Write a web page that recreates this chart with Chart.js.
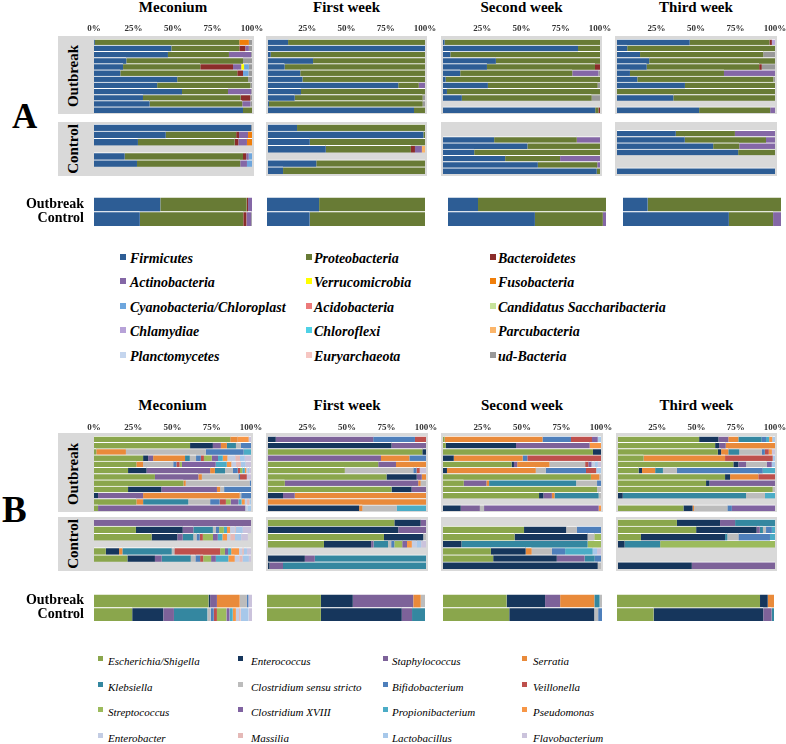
<!DOCTYPE html>
<html>
<head>
<meta charset="utf-8">
<script src="https://cdn.jsdelivr.net/npm/chart.js@4.4.0/dist/chart.umd.min.js"></script>
<style>
  body { margin: 0; background: #fff; }
  #page { position: relative; width: 786px; height: 744px; overflow: hidden; font-family: "Liberation Serif", "Times New Roman", serif; color: #000; }
  .abs { position: absolute; }
  .box { position: absolute; background: #d9d9d9; }
  .title { position: absolute; font-weight: bold; font-size: 15px; line-height: 15px; transform: translate(-50%, -50%); white-space: nowrap; }
  .side { position: absolute; font-weight: bold; font-size: 15px; line-height: 15px; transform: translate(-50%, -50%) rotate(-90deg); white-space: nowrap; }
  .big { position: absolute; font-weight: bold; line-height: 1; }
  .leg { position: absolute; white-space: nowrap; line-height: 16px; }
  .legA { font-weight: bold; font-style: italic; font-size: 14px; }
  .legB { font-style: italic; font-size: 11px; }
  .sq { position: absolute; }
</style>
</head>
<body>
<div id="page"></div>
<script>
// ---- names / colours ----
const phylaA = ['Firmicutes', 'Proteobacteria', 'Bacteroidetes', 'Actinobacteria', 'Verrucomicrobia', 'Fusobacteria',
  'Cyanobacteria/Chloroplast', 'Acidobacteria', 'Candidatus Saccharibacteria', 'Chlamydiae', 'Chloroflexi', 'Parcubacteria',
  'Planctomycetes', 'Euryarchaeota', 'ud-Bacteria'];
const colorsA = ['#2d5d95', '#687b35', '#8b2c2a', '#8467a6', '#ffff00', '#f07e0a', '#6ea6dd', '#ec7a7a', '#c6e29a',
  '#b7a2d8', '#4fd1e6', '#fbb56a', '#c4d5ee', '#f6c6c2', '#999999'];

const generaB = ['Escherichia/Shigella', 'Enterococcus', 'Staphylococcus', 'Serratia', 'Klebsiella', 'Clostridium sensu stricto',
  'Bifidobacterium', 'Veillonella', 'Streptococcus', 'Clostridium XVIII', 'Propionibacterium', 'Pseudomonas',
  'Enterobacter', 'Massilia', 'Lactobacillus', 'Flavobacterium'];
const colorsB = ['#8aa64c', '#16365c', '#7d6299', '#e98a3a', '#3487a0', '#bcbcbc', '#4e7fbb', '#be504c', '#9cbb5c',
  '#8063a1', '#4bacc6', '#f79646', '#c3cde4', '#e5b9b7', '#a7c8ea', '#cbc3dc'];

const weeks = ['Meconium', 'First week', 'Second week', 'Third week'];
const groups = ['Outbreak', 'Control'];

// ---- panel A: % per phylum (legend order), null = no sample ----
const aOutMec = [
  [0.5, 91.5, 0, 0, 0, 6, 0, 0, 0, 0, 0, 0, 0, 0, 2],
  [49, 43, 3.8, 2.2, 0, 0, 0, 0, 0, 0, 0, 0, 0, 0, 2],
  [46.8, 38.6, 0, 14.1, 0, 0, 0, 0, 0, 0, 0, 0, 0, 0, 0.5],
  [20.5, 73.8, 0, 0, 0, 0, 0, 0, 0, 0, 0, 0, 0, 0, 5.7],
  [18.4, 48.9, 20.7, 5.2, 1.8, 0, 3, 0, 0, 0, 0, 0, 0, 0, 2],
  [16.7, 74, 3.6, 0, 0, 0, 3.5, 0, 0, 0, 0, 0, 0, 0, 2.2],
  [52.7, 44.8, 0, 0, 0, 0, 0, 0, 0, 0, 0, 0, 0, 0, 2.5],
  [40, 59, 0, 0, 0, 0, 0, 0, 0, 0, 0, 0, 0, 0, 1],
  [55.7, 29.1, 0, 14.8, 0, 0, 0, 0, 0, 0, 0, 0, 0, 0, 0.4],
  [31, 61.8, 6.2, 0, 0, 0, 0, 0, 0, 0, 0, 0, 0, 0, 1],
  [35.2, 58.7, 0, 5.1, 0, 0, 0, 0, 0, 0, 0, 0, 0, 0, 1],
  [94.3, 5.7]
];
const aOutWk1 = [
  [12.8, 87.2], [100], [1.7, 98.3], [28.7, 71.3], [10.6, 89.4], [20.6, 79.4], [22, 78],
  [83, 13, 0, 4], [21, 79],
  [17, 81.5, 0, 0, 0, 0, 0, 0, 0, 0, 0, 0, 0, 0, 1.5],
  [0.6, 97.9, 0, 0, 0, 0, 0, 0, 0, 0, 0, 0, 0, 0, 1.5],
  [93, 7]
];
const aOutWk2 = [
  [1, 99], [86, 14], [4.7, 95.3], [33.7, 66.3], [28, 68.8, 3.2],
  [11, 71.4, 0, 16.6, 0, 0, 0, 0, 0, 0, 0, 0, 0, 0, 1],
  [1.7, 98.3],
  [28.6, 69.9, 0, 0, 0, 0, 0, 0, 0, 0, 0, 0, 0, 0, 1.5],
  [2.5, 97.5],
  [12, 82.7, 0, 0, 0, 0, 0, 0, 0, 0, 0, 0, 0, 0, 5.3],
  null,
  [97, 2, 1]
];
const aOutWk3 = [
  [46, 50.5, 1.5, 0, 0, 0, 0, 0, 0, 2],
  [6.5, 93.5],
  [14.6, 78, 0, 0, 0, 0, 0, 0, 0, 0, 0, 0, 0, 0, 7.4],
  [20.4, 79.6],
  [18.8, 71.2, 1.6, 0, 0, 0, 0, 0, 0, 0, 0, 0, 0, 0, 8.4],
  [8.2, 59.5, 0, 32.3],
  [12.9, 86.1, 0, 0, 0, 0, 0, 0, 0, 0, 0, 0, 0, 0, 1],
  [43, 57],
  [0, 100],
  [35.7, 64.3],
  null,
  [52, 45, 0, 3]
];
const aCtlMec = [
  [99.5, 0, 0, 0, 0, 0, 0, 0, 0, 0, 0, 0, 0, 0, 0.5],
  [45.4, 44.6, 1.8, 5.7, 0, 2.5],
  [27.8, 61.2, 2.4, 5.4, 0, 3.2],
  null,
  [19.4, 74.9, 2.1, 1.5, 0, 0, 2.1],
  [27.2, 65.4, 0, 4.2, 0, 0, 3.2],
  null
];
const aCtlWk1 = [
  [18.5, 81.5], [99, 1], [26.6, 73.4],
  [36.8, 54.2, 2.6, 4.4, 0, 0, 0, 0, 0, 0, 0, 2],
  null,
  [30.8, 69.2], [9.6, 90.4]
];
const aCtlWk2 = [
  null, null,
  [32.6, 52.6, 0, 14.8], [53.8, 46.2], [19.9, 80.1], [39.6, 35, 0, 25.4], [60.4, 37.9, 0, 1.7], [97.9, 2.1]
];
const aCtlWk3 = [
  null,
  [37.2, 37.4, 0, 25.4], [42.9, 51.4, 0, 5.7], [60.9, 16.5, 0, 22.6], [76.7, 23.3],
  null, null,
  [100]
];
const aSumMec = [[42, 54.6, 0.9, 2.5], [29, 65.5, 2, 3, 0, 0, 0, 0, 0, 0, 0, 0, 0, 0, 0.5]];
const aSumWk1 = [[33, 67], [27, 73]];
const aSumWk2 = [[19, 81], [55, 43, 0, 2]];
const aSumWk3 = [[15.6, 84.4], [67, 28, 0, 5]];

// ---- panel B: % per genus (legend order), null = no sample ----
const bOutMec = [
  [86.8, 0, 0, 4.7, 0, 0, 0, 0, 0, 0, 0, 7, 0, 0, 0, 1.5],
  [61.2, 14.5, 5.1, 3.8, 5.8, 3.2, 6.4],
  [1.5, 0, 0, 18.8, 0, 50.9, 24.1, 0, 0, 0, 4.7],
  [31.3, 3.2, 3.2, 20.3, 3, 4, 3, 2, 5, 4, 3, 3, 5, 3, 3, 4],
  [27, 0, 0, 4.3, 0, 19.2, 2, 2, 1.5, 21.5, 7, 3, 3, 3, 3, 3.5],
  [21.7, 11.8, 40.5, 3, 6.5, 5, 3, 1.5, 1.5, 0, 1.5, 1, 1, 0, 1, 1],
  [38.8, 0, 27.7, 2.2, 0, 23.3, 1, 4.3, 0, 0, 0, 0, 0, 0, 0, 2.7],
  [57, 0, 0, 1.4, 0, 40.7, 0.9],
  [21.7, 21.3, 35.3, 2.1, 0, 2.5, 17.1],
  [0, 2.6, 28.7, 61.5, 0, 1, 6.2],
  [27, 0, 0, 4.3, 28.8, 13.9, 6, 4, 3, 5, 2, 2, 1.5, 1.5, 1],
  [2.6, 0, 93.8, 0, 0, 0, 0, 0, 0, 0, 0, 0, 1.5, 0, 2.1]
];
const bOutWk1 = [
  [0, 4.9, 61.7, 0, 0, 0, 26.4, 7],
  [0, 78.2, 21.8],
  [97.7, 2.3],
  [0, 0, 71.5, 18, 0, 0, 10.5],
  [69.8, 0, 11.2, 19],
  [48.6, 0, 0, 0, 0, 43.4, 2, 2, 0, 0, 0, 0, 0, 0, 0, 4],
  [75, 19.1, 3.2, 2.7],
  [10.6, 0, 84.5, 1.5, 0, 3.4],
  [78.2, 12.7, 9.1],
  [0, 9.5, 7.4, 83.1],
  [0, 0, 0, 100],
  [0, 57.7, 0, 2.1, 0, 21.6, 0, 0, 0, 0, 18.6]
];
const bOutWk2 = [
  [1, 0, 0, 62, 0, 0, 18, 13.3, 0, 3.6, 0, 0, 0, 0, 2.1],
  [1.7, 44.5, 46.6, 0, 0, 0, 0, 0, 0, 0, 0, 7.2],
  [94.9, 5.1],
  [0, 6.8, 0, 43.6, 0, 0, 3, 46.6],
  [43.4, 1.5, 2.1, 20.4, 0, 22.6, 0, 2, 0, 2, 0, 0, 2, 0, 2, 2],
  [0, 2.5, 0, 56.2, 0, 6.3, 25.5, 6.5, 0, 0, 0, 0, 0, 0, 3],
  [93.6, 0, 0, 5.4, 0, 1],
  [13.1, 0, 14.4, 1.7, 55.1, 13.2, 2.5],
  [97.5, 0, 0, 0, 0, 2.5],
  [60.8, 2.8, 5.3, 1.7, 27.9, 1.5],
  null,
  [0, 11.2, 12.1, 0, 0, 2.7, 0, 0, 0, 72.5, 0, 1.5]
];
const bOutWk3 = [
  [51.7, 12.3, 6.3, 6.4, 14.8, 0, 2.8, 0, 0, 0, 2, 2, 0, 0, 1.7],
  [61.9, 2.5, 4.2, 31.4],
  [63.6, 2.1, 0, 4.6, 7, 14.2, 2, 2.5, 0, 0, 0, 2, 0, 0, 0, 2],
  [16.3, 0, 0, 51.9, 0, 0, 0, 30.3, 0, 0, 0, 0, 0, 0, 1.5],
  [73.5, 3.2, 4.9, 0, 0, 13.1, 0, 0, 0, 3.2, 0, 0, 0, 0, 2.1],
  [13.1, 2.2, 0, 8.4, 4.9, 8.9, 54.7, 0, 0, 0, 7.8],
  [68.2, 3.2, 0, 18, 0, 0, 0, 10.6],
  [56.1, 2.2, 41.7],
  [98.5, 0, 0, 0, 0, 1.5],
  [0, 3, 0, 0, 78.6, 12, 0, 0, 0, 0, 6.4],
  null,
  [41.7, 5.8, 0, 1, 0, 21.2, 2.8, 0, 0, 27.5]
];
const bCtlMec = [
  [0, 0, 100],
  [26.7, 29.8, 6.8, 0, 12.4, 2, 2, 0, 3, 0, 2, 2, 3, 0.5, 4.5, 5.3],
  [36.7, 16.4, 3.4, 0, 6.8, 2, 2, 2, 6.5, 3, 3, 3, 2, 3, 4, 4.2],
  null,
  [7.5, 8.5, 0, 2.1, 31.4, 1.7, 0, 29.2, 3, 2, 2, 5, 2, 1, 2, 2.6],
  [21.3, 17.5, 4.3, 0, 18.5, 3, 3, 2, 5, 3, 8, 4, 3, 2, 4, 1.4],
  null
];
const bCtlWk1 = [
  [80, 16.6, 3.4],
  [0, 82.5, 17.5],
  [73.4, 24.9, 0, 0, 0, 1.7],
  [35.4, 29.9, 1.5, 0, 9.2, 2, 2, 0, 5, 3, 0, 3, 3, 0, 3, 3],
  null,
  [0, 23.3, 6.3, 0, 70.4],
  [0, 1, 8.5, 0, 90.5]
];
const bCtlWk2 = [
  null,
  [51.3, 26.7, 0, 0, 0, 6.7, 15.3],
  [45.3, 46.2, 0, 0, 0, 4.3, 0, 0, 4.2],
  [0, 11.7, 0, 0, 79.8, 0, 0, 0, 8.5],
  [30.3, 22, 0, 3.8, 0, 12.8, 8.4, 0, 0, 0, 17.4, 0, 0, 0, 2.8, 2.5],
  [31.8, 40.2, 17.6, 0, 6.4, 0, 4],
  [0, 97.9, 0, 0, 0, 2.1]
];
const bCtlWk3 = [
  [37.5, 27.5, 9.6, 0, 25.4],
  [49.8, 38.5, 2, 0, 2, 2, 3.7, 0, 0, 0, 2],
  [14.6, 53.6, 0, 0, 1.5, 7, 20.1, 0, 0, 0, 3.2],
  [0, 4.2, 0, 0, 22.7, 0, 0, 0, 73.1],
  null, null,
  [0, 47, 53]
];
const bSumMec = [[72.5, 1, 4.3, 14.4, 0, 4.6, 1, 0, 0, 0, 0, 0, 0, 0, 0, 2.2],
  [24.2, 19.7, 6.7, 0, 21.2, 2, 2, 2, 6, 2, 2, 2, 2, 1, 5, 2.2]];
const bSumWk1 = [[34.1, 20.2, 38.3, 4.7, 0, 2.7], [34.1, 51.2, 6.5, 0, 8.2]];
const bSumWk2 = [[40, 24.2, 9.5, 21.5, 3.3, 1.5], [41.7, 53.5, 0, 0, 0, 2.4, 2.4]];
const bSumWk3 = [[91.1, 4.9, 0, 4], [23.3, 69.9, 5.3, 0, 1.5]];

// ---- layout ----
const page = document.getElementById('page');
const SERIF = '"Liberation Serif", "Times New Roman", serif';
const PADX = 20;

function el(cls, css, text) {
  const d = document.createElement('div');
  d.className = cls;
  Object.assign(d.style, css);
  if (text !== undefined) d.textContent = text;
  page.appendChild(d);
  return d;
}

// one stacked horizontal bar chart whose plot area is x0..x1, y0..y1
function bars(o) {
  const axisH = o.axisH || 0;
  const padY = o.labels ? 20 : 0;   // room for the category labels' own padding
  const left = o.labels ? 0 : o.x0 - PADX;
  const w = Math.round(o.x1 + PADX - left);
  const h = Math.round(o.y1 - o.y0 + axisH + 2 * padY);
  const wrap = el('abs', { left: left + 'px', top: (o.y0 - axisH - padY) + 'px', width: w + 'px', height: h + 'px' });
  const cv = document.createElement('canvas');
  cv.width = w; cv.height = h;
  wrap.appendChild(cv);
  new Chart(cv, {
    type: 'bar',
    data: {
      labels: o.labels || o.rows.map((r, i) => String(i + 1)),
      datasets: o.names.map((n, k) => ({
        label: n,
        data: o.rows.map(r => r ? (r[k] || 0) : null),
        backgroundColor: o.colors[k],
        borderColor: '#ffffff',
        borderWidth: { top: 1, right: 0, bottom: 0, left: 0 },
        borderSkipped: false,
        barPercentage: 1,
        categoryPercentage: 1
      }))
    },
    options: {
      indexAxis: 'y',
      responsive: false,
      animation: false,
      devicePixelRatio: 1,
      layout: { padding: { left: o.labels ? 0 : PADX, right: PADX, top: padY, bottom: padY } },
      plugins: { legend: { display: false }, tooltip: { enabled: false } },
      scales: {
        x: {
          stacked: true, min: 0, max: 100, position: 'top', display: !!o.axisH,
          grid: { display: false, drawTicks: false }, border: { display: false },
          ticks: {
            stepSize: 25, padding: o.tickPad || 4, maxRotation: 0, autoSkip: false, color: '#333',
            font: { family: SERIF, weight: 'bold', size: 9 },
            callback: v => (v === 0 && !o.zero) ? '' : v + '%'
          },
          afterFit: s => { if (o.axisH) s.height = axisH; }
        },
        y: {
          stacked: true, display: !!o.labels,
          grid: { display: false, drawTicks: false }, border: { display: false },
          ticks: { padding: 10, autoSkip: false, color: '#000', font: { family: SERIF, weight: 'bold', size: 14 } },
          afterFit: s => { if (o.labels) s.width = o.x0; }
        }
      }
    }
  });
}

function panel(p) {
  // grey boxes
  p.cols.forEach((c, i) => {
    const bl = i === 0 ? 58 : c[0] - 2;
    el('box', { left: bl + 'px', width: (c[1] + 2 - bl) + 'px', top: p.out[0] - 3 + 'px', height: (p.out[1] - p.out[0] + 4) + 'px' });
    el('box', { left: bl + 'px', width: (c[1] + 2 - bl) + 'px', top: p.ctl[0] - 2 + 'px', height: (p.ctl[1] - p.ctl[0] + 4) + 'px' });
    el('title', { left: (c[0] + c[1]) / 2 + 'px', top: p.titleY + 'px' }, weeks[i]);
  });
  el('side', { left: '73px', top: (p.out[0] + p.out[1]) / 2 + 'px' }, groups[0]);
  el('side', { left: '73px', top: (p.ctl[0] + p.ctl[1]) / 2 + 'px' }, groups[1]);
  p.cols.forEach((c, i) => {
    bars({ x0: c[0], x1: c[1], y0: p.out[0], y1: p.out[1], rows: p.outRows[i], names: p.names, colors: p.colors,
      axisH: p.axisH, tickPad: p.tickPad, zero: i === 0 });
    bars({ x0: c[0], x1: c[1], y0: p.ctl[0], y1: p.ctl[1], rows: p.ctlRows[i], names: p.names, colors: p.colors });
    const s = p.sumCols[i];
    bars({ x0: s[0], x1: s[1], y0: p.sum[0], y1: p.sum[1], rows: p.sumRows[i], names: p.names, colors: p.colors,
      labels: i === 0 ? groups : null });
  });
}

panel({
  names: phylaA, colors: colorsA, titleY: 7, axisH: 18, tickPad: 4.6,
  cols: [[94, 252], [268, 425], [443, 600], [617, 775]],
  sumCols: [[94, 252], [267, 425], [448, 606], [623, 781]],
  out: [39, 113], ctl: [124, 174], sum: [197, 226],
  outRows: [aOutMec, aOutWk1, aOutWk2, aOutWk3],
  ctlRows: [aCtlMec, aCtlWk1, aCtlWk2, aCtlWk3],
  sumRows: [aSumMec, aSumWk1, aSumWk2, aSumWk3]
});
panel({
  names: generaB, colors: colorsB, titleY: 405, axisH: 16, tickPad: 2.6,
  cols: [[94, 251], [268, 426], [443, 601], [618, 775]],
  sumCols: [[94, 252], [267, 425], [443, 602], [617, 774]],
  out: [436, 511], ctl: [519, 569], sum: [594, 621],
  outRows: [bOutMec, bOutWk1, bOutWk2, bOutWk3],
  ctlRows: [bCtlMec, bCtlWk1, bCtlWk2, bCtlWk3],
  sumRows: [bSumMec, bSumWk1, bSumWk2, bSumWk3]
});

el('big', { left: '12px', top: '99px', fontSize: '35px' }, 'A');
el('big', { left: '2px', top: '491px', fontSize: '37px' }, 'B');

// legends
function legend(names, colors, nCols, sqX, txX, y0, dy, sq, cls) {
  names.forEach((n, i) => {
    const c = i % nCols, r = Math.floor(i / nCols);
    const cy = y0 + r * dy;
    el('sq', { left: sqX[c] + 'px', top: (cy - 5) + 'px', width: sq + 'px', height: sq + 'px', background: colors[i] });
    el('leg ' + cls, { left: txX[c] + 'px', top: (cy - 8) + 'px' }, n);
  });
}
legend(phylaA, colorsA, 3, [120, 306, 490], [130, 314, 498], 259, 24.4, 6, 'legA');
legend(generaB, colorsB, 4, [98, 238, 383, 522], [108, 251, 392, 533], 661, 25.5, 5, 'legB');
</script>
</body>
</html>
